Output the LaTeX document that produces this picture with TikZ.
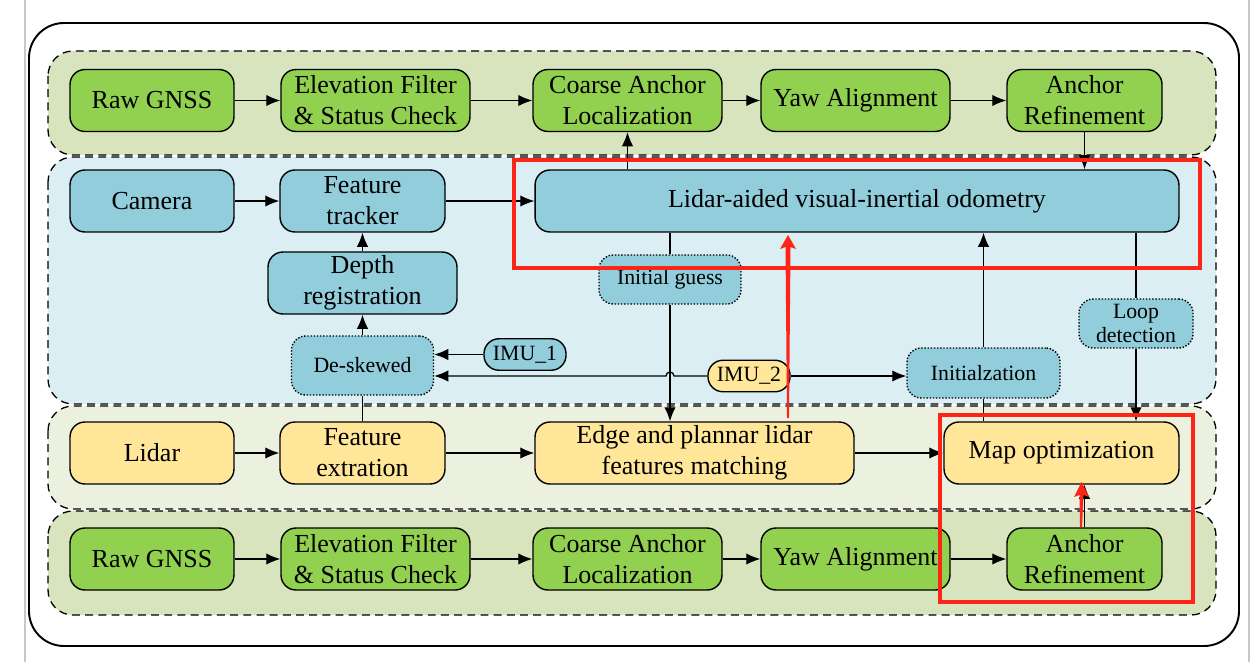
\documentclass[tikz,border=0pt]{standalone}
\usepackage{fontspec}
\setmainfont{Liberation Serif}
\usetikzlibrary{arrows.meta, calc}
\definecolor{gnss}{HTML}{92D050}
\definecolor{cam}{HTML}{92CDDC}
\definecolor{lid}{HTML}{FFE699}
\definecolor{gnssbg}{HTML}{D7E4BD}
\definecolor{cambg}{HTML}{DAEEF3}
\definecolor{lidbg}{HTML}{EBF1DE}
\definecolor{redmark}{HTML}{FF2418}
\definecolor{pagegrey}{HTML}{C8C8C8}
\newcommand{\bigsz}{\fontsize{14.8}{17.6}\selectfont}
\newcommand{\smallsz}{\fontsize{12.4}{13.6}\selectfont}
\tikzset{
  blok/.style={rounded corners=8.5pt, draw=black, line width=0.8pt, align=center,
               font=\bigsz, inner sep=2pt, minimum height=1.24cm},
  gblok/.style={blok, fill=gnss},
  bblok/.style={blok, fill=cam},
  yblok/.style={blok, fill=lid},
  dotblok/.style={rounded corners=8pt, draw=black, densely dotted, line width=0.8pt,
                  fill=cam, align=center, font=\smallsz, inner sep=1pt},
  pill/.style={rounded corners=8.5pt, draw=black, line width=0.8pt, font=\smallsz,
               minimum width=1.64cm, minimum height=0.63cm, inner sep=1pt},
  band/.style={draw=black, dash pattern=on 4.5pt off 3pt, line width=0.75pt,
               rounded corners=0.5cm},
  flow/.style={-{Latex[length=8pt, width=6.5pt]}, line width=0.75pt},
  plain/.style={line width=0.75pt},
}
\begin{document}
\begin{tikzpicture}[x=0.02cm, y=-0.02cm]
  \useasboundingbox (0,0) rectangle (1256,662);
  % page edges and frame
  \draw[pagegrey, line width=0.6pt] (25,0) -- (25,662);
  \draw[pagegrey, line width=0.6pt] (1249,0) -- (1249,662);
  \draw[line width=1.1pt, rounded corners=0.7cm] (29,23) rectangle (1239,646);
  % bands
  \draw[band, fill=gnssbg] (48,51) rectangle (1216,155);
  \draw[band, fill=cambg] (48,157) rectangle (1216,404);
  \draw[band, fill=lidbg] (48,406) rectangle (1216,509);
  \draw[band, fill=gnssbg] (48,511) rectangle (1216,615);

  % GNSS chain, top
  \node[gblok, minimum width=3.28cm] (rawA) at (152,100.5) {Raw GNSS};
  \node[gblok, minimum width=3.78cm] (elevA) at (375.5,100.5) {Elevation Filter\\\& Status Check};
  \node[gblok, minimum width=3.78cm] (coarseA) at (627.5,100.5) {Coarse Anchor\\Localization};
  \node[gblok, minimum width=3.78cm] (yawA) at (855.5,100.5) {Yaw Alignment};
  \node[gblok, minimum width=3.1cm] (refA) at (1084.5,100.5) {Anchor\\Refinement};

  % camera part
  \node[bblok, minimum width=3.28cm] (camera) at (152,201) {Camera};
  \node[bblok, minimum width=3.3cm] (tracker) at (362.5,201) {Feature\\tracker};
  \node[bblok, minimum width=12.88cm] (vio) at (857,201) {Lidar-aided visual-inertial odometry};
  \node[bblok, minimum width=3.78cm] (depth) at (362.5,283) {Depth\\registration};
  \node[dotblok, minimum width=2.84cm, minimum height=1.18cm] (deskew) at (362.5,365.5) {De-skewed};
  \node[pill, fill=cam] (imuA) at (525,354.5) {IMU\_1};
  \node[pill, fill=lid] (imuB) at (749,376) {IMU\_2};
  \node[dotblok, minimum width=2.84cm, minimum height=0.98cm] (guess) at (670,279.5) {Initial guess};
  \node[dotblok, minimum width=3.06cm, minimum height=1.0cm] (init) at (983.5,373) {Initialzation};
  \node[dotblok, minimum width=2.28cm, minimum height=0.98cm] (loop) at (1136,323.5) {Loop\\detection};

  % lidar part
  \node[yblok, minimum width=3.28cm] (lidar) at (152,453) {Lidar};
  \node[yblok, minimum width=3.3cm] (extract) at (362.5,453) {Feature\\extration};
  \node[yblok, minimum width=6.38cm] (match) at (694.5,453) {Edge and plannar lidar\\features matching};
  \node[yblok, minimum width=4.7cm] (mapopt) at (1061.5,453) {Map optimization};

  % GNSS chain, bottom
  \node[gblok, minimum width=3.28cm] (rawB) at (152,559) {Raw GNSS};
  \node[gblok, minimum width=3.78cm] (elevB) at (375.5,559) {Elevation Filter\\\& Status Check};
  \node[gblok, minimum width=3.78cm] (coarseB) at (627.5,559) {Coarse Anchor\\Localization};
  \node[gblok, minimum width=3.78cm] (yawB) at (855.5,559) {Yaw Alignment};
  \node[gblok, minimum width=3.1cm] (refB) at (1084.5,559) {Anchor\\Refinement};

  % rows
  \draw[flow] (rawA) -- (elevA);
  \draw[flow] (elevA) -- (coarseA);
  \draw[flow] (coarseA) -- (yawA);
  \draw[flow] (yawA) -- (refA);
  \draw[flow] (camera) -- (tracker);
  \draw[flow] (tracker) -- (vio);
  \draw[flow] (lidar) -- (extract);
  \draw[flow] (extract) -- (match);
  \draw[flow] (match) -- (mapopt);
  \draw[flow] (rawB) -- (elevB);
  \draw[flow] (elevB) -- (coarseB);
  \draw[flow] (coarseB) -- (yawB);
  \draw[flow] (yawB) -- (refB);
  % between rows
  \draw[flow] (vio.north -| coarseA) -- (coarseA.south);
  \draw[flow] (refA.south) -- (vio.north -| refA);
  \draw[flow] (refB.north) -- (mapopt.south -| refB);
  \draw[flow] (depth) -- (tracker);
  \draw[flow] (deskew) -- (depth);
  \draw[plain] (extract) -- (deskew);
  \draw[flow] (imuA.west) -- (imuA.west -| deskew.east);
  \draw[flow] (imuB.west) -- ($(imuB.west -| guess)+(4,0)$)
    arc[start angle=0, end angle=-180, radius=4] -- (imuB.west -| deskew.east);
  \draw[flow] (imuB.east) -- (imuB.east -| init.west);
  \draw[plain] (vio.south -| guess) -- (guess);
  \draw[flow] (guess) -- (match.north -| guess);
  \draw[flow] (init) -- (vio.south -| init);
  \draw[plain] (mapopt.north -| init) -- (init);
  \draw[plain] (vio.south -| loop) -- (loop);
  \draw[flow] (loop) -- (mapopt.north -| loop);

  % red marks
  \draw[redmark, line width=2.2pt] (514,160) rectangle (1200,268);
  \draw[redmark, line width=2.2pt] (940,415) rectangle (1193,602);
  \fill[redmark] (787,418) -- (785.5,247) -- (780,249) -- (788,235) -- (796,249)
    -- (790.5,247) -- (789,418) -- cycle;
  \fill[redmark] (1080,527) -- (1079.5,495) -- (1074,497) -- (1081.5,482) -- (1089,497)
    -- (1083.5,495) -- (1082,527) -- cycle;
\end{tikzpicture}
\end{document}
